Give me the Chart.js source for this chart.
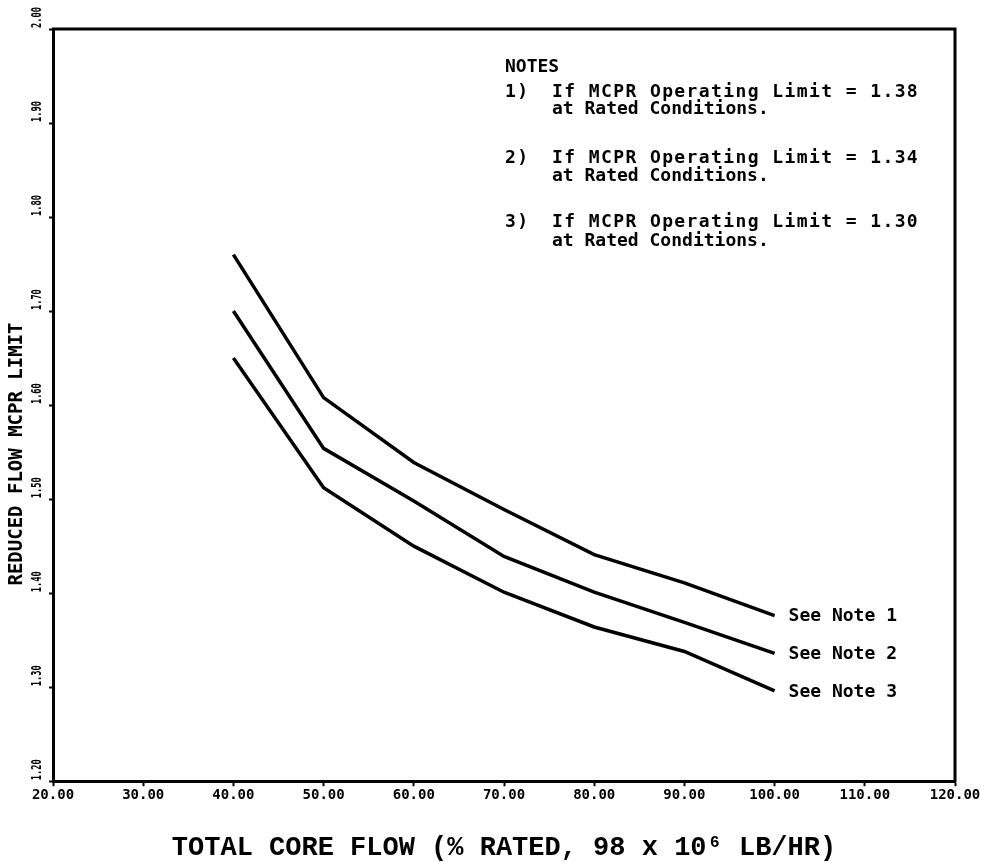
<!DOCTYPE html>
<html>
<head>
<meta charset="utf-8">
<script src="https://cdn.jsdelivr.net/npm/chart.js@4.4.1/dist/chart.umd.min.js"></script>
<style>
  html, body { margin: 0; padding: 0; background: #ffffff; }
  #wrap { width: 999px; height: 862px; }
</style>
</head>
<body>
<div id="wrap"><canvas id="c" width="999" height="862"></canvas></div>
<script>
// ---- data ----
const flow = [40, 50, 60, 70, 80, 90, 100];
const note1 = [1.76, 1.608, 1.539, 1.489, 1.441, 1.411, 1.376];
const note2 = [1.70, 1.554, 1.498, 1.439, 1.401, 1.369, 1.336];
const note3 = [1.65, 1.512, 1.450, 1.401, 1.364, 1.338, 1.296];
const seriesLabels = ['See Note 1', 'See Note 2', 'See Note 3'];
const xTickValues = [20, 30, 40, 50, 60, 70, 80, 90, 100, 110, 120];
const xTickLabels = ['20.00', '30.00', '40.00', '50.00', '60.00', '70.00', '80.00', '90.00', '100.00', '110.00', '120.00'];
const yTickValues = [1.2, 1.3, 1.4, 1.5, 1.6, 1.7, 1.8, 1.9, 2.0];
const yTickLabels = ['1.20', '1.30', '1.40', '1.50', '1.60', '1.70', '1.80', '1.90', '2.00'];
const xTitle = 'TOTAL CORE FLOW (% RATED, 98 x 10\u2076 LB/HR)';
const yTitle = 'REDUCED FLOW MCPR LIMIT';
const notesLines = [
  ['NOTES', ''],
  ['1)', 'If MCPR Operating Limit = 1.38'],
  ['', 'at Rated Conditions.'],
  ['2)', 'If MCPR Operating Limit = 1.34'],
  ['', 'at Rated Conditions.'],
  ['3)', 'If MCPR Operating Limit = 1.30'],
  ['', 'at Rated Conditions.']
];

const toPts = (ys) => flow.map((x, i) => ({ x: x, y: ys[i] }));
const seriesData = [note1, note2, note3];

const decor = {
  id: 'decor',
  afterDraw(chart) {
    const ctx = chart.ctx;
    const a = chart.chartArea;
    const xs = chart.scales.x, ys = chart.scales.y;
    ctx.save();
    // top and right frame lines
    ctx.strokeStyle = '#000';
    ctx.lineWidth = 3;
    ctx.beginPath();
    ctx.moveTo(a.left - 1, a.top);
    ctx.lineTo(a.right, a.top);
    ctx.lineTo(a.right, a.bottom + 1);
    ctx.stroke();

    // rotated y tick labels
    ctx.fillStyle = '#000';
    ctx.font = 'bold 14px "DejaVu Sans Mono"';
    ctx.textBaseline = 'middle';
    ctx.textAlign = 'left';
    yTickValues.forEach((v, i) => {
      const py = ys.getPixelForValue(v);
      ctx.save();
      ctx.translate(37, py - 1);
      ctx.rotate(-Math.PI / 2);
      ctx.scale(0.62, 1);
      ctx.fillText(yTickLabels[i], 0, 0);
      ctx.restore();
    });

    // y axis title
    ctx.save();
    ctx.font = 'bold 19px "DejaVu Sans Mono"';
    ctx.textAlign = 'center';
    ctx.textBaseline = 'middle';
    ctx.translate(17, 454);
    ctx.rotate(-Math.PI / 2);
    ctx.fillText(yTitle, 0, 0);
    ctx.restore();

    // notes block
    ctx.font = 'bold 18px "DejaVu Sans Mono"';
    ctx.textAlign = 'left';
    ctx.textBaseline = 'alphabetic';
    const baselines = [72, 97, 114, 163, 181, 227, 246];
    notesLines.forEach((ln, i) => {
      try { ctx.letterSpacing = ln[0] && ln[0] !== 'NOTES' ? '1.4px' : '0px'; } catch (e) {}
      if (ln[0]) ctx.fillText(ln[0], 505, baselines[i]);
      if (ln[1]) ctx.fillText(ln[1], 552, baselines[i]);
    });
    try { ctx.letterSpacing = '0px'; } catch (e) {}

    // series end labels
    ctx.font = 'bold 18px "DejaVu Sans Mono"';
    ctx.textBaseline = 'middle';
    seriesData.forEach((arr, i) => {
      const n = arr.length - 1;
      const px = xs.getPixelForValue(flow[n]) + 14;
      const py = ys.getPixelForValue(arr[n]);
      ctx.fillText(seriesLabels[i], px, py + 1);
    });
    ctx.restore();
  }
};

new Chart(document.getElementById('c'), {
  type: 'line',
  data: {
    datasets: seriesData.map((arr, i) => ({
      label: seriesLabels[i],
      data: toPts(arr),
      borderColor: '#000',
      borderWidth: 3.5,
      pointRadius: 0,
      tension: 0,
      fill: false
    }))
  },
  options: {
    responsive: false,
    animation: false,
    layout: { padding: { left: 49, top: 29, right: 44, bottom: 0 } },
    plugins: { legend: { display: false }, tooltip: { enabled: false } },
    scales: {
      x: {
        type: 'linear',
        min: 20, max: 120,
        afterBuildTicks: (s) => { s.ticks = xTickValues.map(v => ({ value: v })); },
        ticks: {
          color: '#000',
          font: { family: '"DejaVu Sans Mono"', size: 14, weight: 'bold' },
          padding: 1,
          maxRotation: 0,
          autoSkip: false,
          callback: (v) => { const i = xTickValues.indexOf(v); return i >= 0 ? xTickLabels[i] : ''; }
        },
        grid: { drawOnChartArea: false, drawTicks: true, tickLength: 5, tickWidth: 2, color: '#000' },
        border: { display: true, color: '#000', width: 3 },
        title: {
          display: true,
          text: xTitle,
          color: '#000',
          font: { family: '"Liberation Mono"', size: 27, weight: 'bold', lineHeight: 1 },
          padding: { top: 30, bottom: 0 }
        }
      },
      y: {
        type: 'linear',
        min: 1.2, max: 2.0,
        afterBuildTicks: (s) => { s.ticks = yTickValues.map(v => ({ value: v })); },
        ticks: { display: false },
        grid: { drawOnChartArea: false, drawTicks: true, tickLength: 4, tickWidth: 2, color: '#000' },
        border: { display: true, color: '#000', width: 3 },
        title: { display: false }
      }
    }
  },
  plugins: [decor]
});
</script>
</body>
</html>
